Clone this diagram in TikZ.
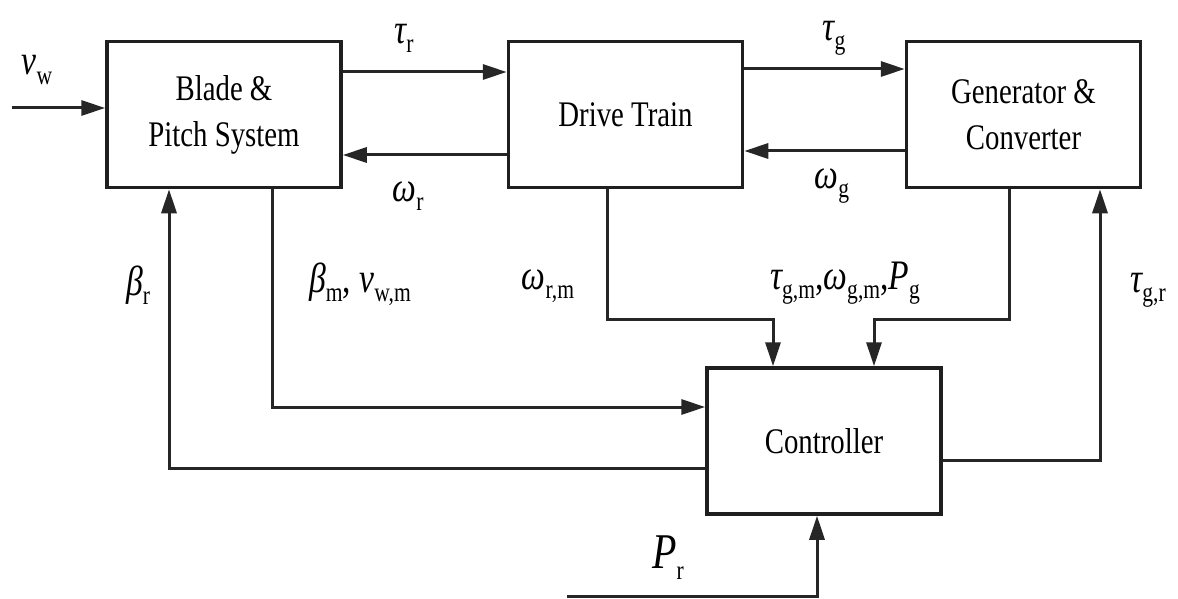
\documentclass[tikz,border=0pt]{standalone}
\usepackage{fontspec}
\setmainfont{Liberation Serif}[FakeStretch=0.8]
\usetikzlibrary{arrows.meta}
\newcommand\sbs[1]{\raisebox{-0.22em}{\fontsize{27}{27}\selectfont #1}}
\newcommand\gi[1]{{\itshape #1}}
\begin{document}
\begin{tikzpicture}[x=1pt,y=-1pt,
  blk/.style={draw=black!88, line width=3.5pt, minimum width=234pt, minimum height=146pt,
    inner sep=0pt, align=center, font=\fontsize{36}{46}\selectfont},
  lab/.style={inner sep=0pt, font=\fontsize{42}{46}\selectfont},
  arr/.style={draw=black!85, line width=3pt, -{Triangle[length=24pt,width=15pt]}}]
\useasboundingbox (0,0) rectangle (1178,599);

\node[blk] (blade) at (224,114.5) {Blade \&\\Pitch System};
\node[blk] (drive) at (625.5,114.5) {Drive Train};
\node[blk] (gen) at (1023.5,114.5) {Generator \&\\Converter};
\node[blk] (ctrl) at (824,441) {Controller};

\coordinate (vin) at (12,108);
\coordinate (tr) at (0,72);
\coordinate (wr) at (0,155);
\coordinate (tg) at (0,69);
\coordinate (wg) at (0,151);
\coordinate (dd) at (607,319);
\coordinate (c1) at (773,0);
\coordinate (gd) at (1009,319);
\coordinate (c2) at (874,0);
\coordinate (bm) at (272,407);
\coordinate (br) at (169,468);
\coordinate (tgr) at (1100,460);
\coordinate (pin) at (567,596);
\coordinate (pc) at (817,596);

\draw[arr] (vin) -- (blade.west |- vin);
\draw[arr] (blade.east |- tr) -- (drive.west |- tr);
\draw[arr] (drive.west |- wr) -- (blade.east |- wr);
\draw[arr] (drive.east |- tg) -- (gen.west |- tg);
\draw[arr] (gen.west |- wg) -- (drive.east |- wg);
\draw[arr] (drive.south -| dd) -- (dd) -- (dd -| c1) -- (ctrl.north -| c1);
\draw[arr] (gen.south -| gd) -- (gd) -- (gd -| c2) -- (ctrl.north -| c2);
\draw[arr] (blade.south -| bm) -- (bm) -- (ctrl.west |- bm);
\draw[arr] (ctrl.west |- br) -- (br) -- (blade.south -| br);
\draw[arr] (ctrl.east |- tgr) -- (tgr) -- (gen.south -| tgr);
\draw[arr] (pin) -- (pc) -- (ctrl.south -| pc);

\node[lab] (lvw) at (37,70) {\gi{v}\sbs{w}};
\node[lab] (ltr) at (404,38) {\gi{τ}\sbs{r}};
\node[lab] (lwr) at (408,196) {\gi{ω}\sbs{r}};
\node[lab] (ltg) at (834,38) {\gi{τ}\sbs{g}};
\node[lab] (lwg) at (832,186) {\gi{ω}\sbs{g}};
\node[lab] (lbr) at (138,285) {\gi{β}\sbs{r}};
\node[lab] (lbm) at (360,284) {\gi{β}\sbs{m}, \gi{v}\sbs{w,m}};
\node[lab] (lwrm) at (548,286) {\gi{ω}\sbs{r,m}};
\node[lab] (lgm) at (845,283) {\gi{τ}\sbs{g,m},\gi{ω}\sbs{g,m},\gi{P}\sbs{g}};
\node[lab] (ltgr) at (1148,290) {\gi{τ}\sbs{g,r}};
\node[lab,font=\fontsize{50}{54}\selectfont] (lpr) at (668,558) {\gi{P}\sbs{r}};
\end{tikzpicture}
\end{document}
